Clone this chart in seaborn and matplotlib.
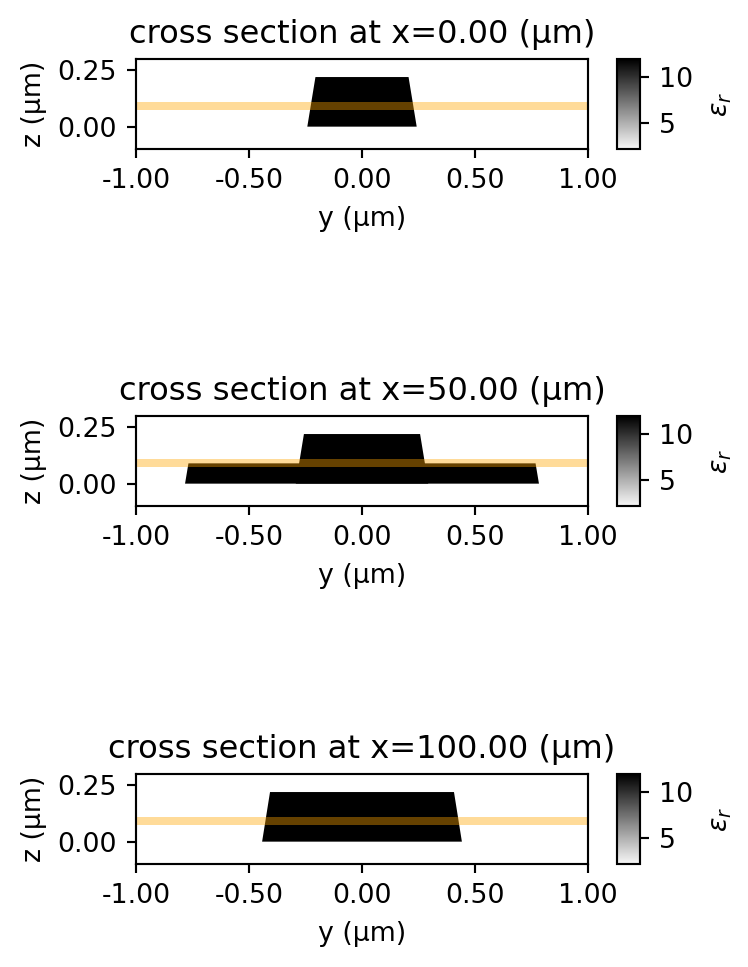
import numpy as np
import matplotlib
matplotlib.use("Agg")
import matplotlib.pyplot as plt
import seaborn as sns
from matplotlib import cm, colors

sections = ["0.00", "50.00", "100.00"]
core_y = [[-0.242, 0.242, 0.206, -0.206], [-0.293, 0.293, 0.257, -0.257], [-0.442, 0.442, 0.407, -0.407]]
core_z = [0.0, 0.0, 0.22, 0.22]
slab_y = [-0.783, 0.783, 0.768, -0.768]
slab_z = [0.0, 0.0, 0.09, 0.09]
band_z = [0.0725, 0.1075]
y_ticks = [-1.0, -0.5, 0.0, 0.5, 1.0]
z_ticks = [0.0, 0.25]
cbar_ticks = [5, 10]
eps_range = [2.1, 12.0]

sns.set_theme(style="ticks", rc={"axes.unicode_minus": False, "xtick.direction": "out", "ytick.direction": "out"})
plt.rcParams["font.family"] = ["DejaVu Sans"]
W, H, DPI = 748, 967, 193
fig = plt.figure(figsize=(W / DPI, H / DPI), dpi=DPI)

def rect(l, t, r, b):
    return [l / W, 1 - b / H, (r - l) / W, (b - t) / H]

tops = [59.0, 416.0, 774.0]
axes_h = 90.2
fs = 10
gray_map = colors.LinearSegmentedColormap.from_list(
    "eps_gray", plt.get_cmap("gist_yarg")(np.linspace(0.03, 1.0, 256)))
for i, (sec, top) in enumerate(zip(sections, tops)):
    ax = fig.add_axes(rect(136, top, 588, top + axes_h))
    ax.set_xlim(-1, 1)
    ax.set_ylim(-0.1, 0.3)
    if i == 1:
        ax.fill(slab_y, slab_z, color="black", lw=0)
    ax.fill(core_y[i], core_z, color="black", lw=0)
    ax.axhspan(band_z[0], band_z[1], color="orange", alpha=0.4, lw=0)
    ax.set_xticks(y_ticks, [f"{v:.2f}" for v in y_ticks], fontsize=fs, color="black")
    ax.set_yticks(z_ticks, [f"{v:.2f}" for v in z_ticks], fontsize=fs, color="black")
    ax.set_xlabel("y (μm)", fontsize=fs, color="black", labelpad=4.5)
    ax.set_ylabel("z (μm)", fontsize=fs, color="black", labelpad=4)
    ax.set_title(f"cross section at x={sec} (μm)", fontsize=12, color="black")
    for s in ax.spines.values():
        s.set_color("black")
        s.set_linewidth(0.8)
    ax.tick_params(color="black", width=0.8, length=3.5)

    cax = fig.add_axes(rect(617, top, 640, top + axes_h))
    sm = cm.ScalarMappable(norm=colors.Normalize(*eps_range), cmap=gray_map)
    cb = fig.colorbar(sm, cax=cax)
    cb.set_ticks(cbar_ticks)
    cb.ax.tick_params(labelsize=fs, color="black", labelcolor="black", width=0.8, length=3.5)
    cb.set_label(r"$\epsilon_r$", fontsize=fs, color="black", labelpad=5.5)
    cb.outline.set_edgecolor("black")
    cb.outline.set_linewidth(0.8)

fig.savefig("out.png", dpi=DPI)
